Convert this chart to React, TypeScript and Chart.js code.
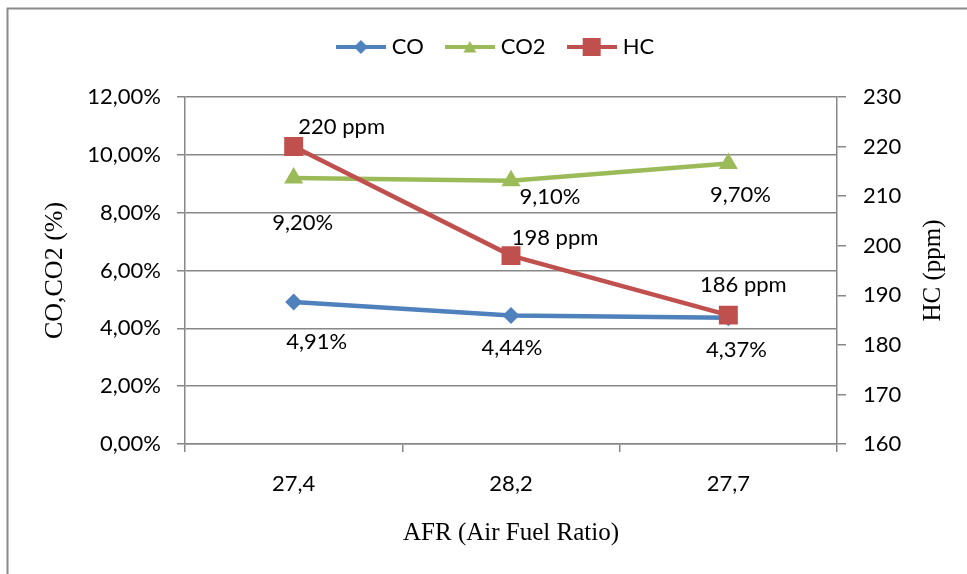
import React, { useEffect, useRef } from 'react';
import { Chart, registerables } from 'chart.js';

Chart.register(...registerables);

// ---- data ----
const categories = ['27,4', '28,2', '27,7'];
const coValues = [4.91, 4.44, 4.37];
const co2Values = [9.2, 9.1, 9.7];
const hcValues = [220, 198, 186];
const leftAxis = { min: 0, max: 12, step: 2 };
const rightAxis = { min: 160, max: 230, step: 10 };
const seriesNames = ['CO', 'CO2', 'HC'];
const xTitle = 'AFR (Air Fuel Ratio)';
const leftTitle = 'CO,CO2 (%)';
const rightTitle = 'HC (ppm)';

// ---- styles ----
const BLUE = '#4F81BD';
const GREEN = '#9BBB59';
const RED = '#C0504D';
const GRID = '#878787';
const SANS = 'Lato, "Open Sans", sans-serif';
const SERIF = '"Liberation Serif", "Times New Roman", serif';

// label offsets (pixels from point) per series
const labelOffsets: number[][][] = [
  [[23, 40], [1, 32], [8, 32]],
  [[9, 45], [39, 16], [12, 31]],
  [[48, -20], [44, -18], [15, -30]],
];

const fmtPct = (v: number) => v.toFixed(2).replace('.', ',') + '%';
const fmtPpm = (v: number) => `${v} ppm`;
const labelFormats = [fmtPct, fmtPct, fmtPpm];

function legendImage(color: string, marker: string): HTMLCanvasElement {
  const c = document.createElement('canvas');
  c.width = 50;
  c.height = 22;
  const g = c.getContext('2d')!;
  g.strokeStyle = color;
  g.fillStyle = color;
  g.lineWidth = 4;
  g.beginPath();
  g.moveTo(0, 11);
  g.lineTo(50, 11);
  g.stroke();
  g.beginPath();
  if (marker === 'diamond') {
    g.moveTo(25, 4);
    g.lineTo(32, 11);
    g.lineTo(25, 18);
    g.lineTo(18, 11);
    g.closePath();
  } else if (marker === 'triangle') {
    g.moveTo(25, 5);
    g.lineTo(31.5, 16.5);
    g.lineTo(18.5, 16.5);
    g.closePath();
  } else {
    g.rect(16, 2, 18, 18);
  }
  g.fill();
  return c;
}

export default function App() {
  const ref = useRef<HTMLCanvasElement | null>(null);

  useEffect(() => {
    let chart: Chart | null = null;
    let cancelled = false;

    const build = () => {
      if (cancelled || !ref.current) return;
      const images = [
        legendImage(BLUE, 'diamond'),
        legendImage(GREEN, 'triangle'),
        legendImage(RED, 'square'),
      ];

      const framePlugin = {
        id: 'frame',
        beforeDraw(c: any) {
          const ctx = c.ctx;
          ctx.save();
          ctx.strokeStyle = '#8a8a8a';
          ctx.lineWidth = 2;
          ctx.beginPath();
          ctx.moveTo(7.5, 574);
          ctx.lineTo(7.5, 8.5);
          ctx.lineTo(967, 8.5);
          ctx.stroke();
          ctx.restore();
        },
        afterDraw(c: any) {
          const ctx = c.ctx;
          const area = c.chartArea;
          ctx.save();
          ctx.font = `25px ${SERIF}`;
          ctx.fillStyle = '#000';
          ctx.textAlign = 'center';
          ctx.textBaseline = 'middle';
          ctx.translate(933, (area.top + area.bottom) / 2);
          ctx.rotate(-Math.PI / 2);
          ctx.fillText(rightTitle, 0, 0);
          ctx.restore();
        },
      };

      const labelPlugin = {
        id: 'pointLabels',
        afterDatasetsDraw(c: any) {
          const ctx = c.ctx;
          ctx.save();
          ctx.font = `22px ${SANS}`;
          ctx.fillStyle = '#000';
          ctx.textAlign = 'center';
          ctx.textBaseline = 'middle';
          c.data.datasets.forEach((ds: any, di: number) => {
            const meta = c.getDatasetMeta(di);
            meta.data.forEach((el: any, i: number) => {
              const [dx, dy] = labelOffsets[di][i];
              ctx.fillText(labelFormats[di](ds.data[i]), el.x + dx, el.y + dy);
            });
          });
          ctx.restore();
        },
      };

      chart = new Chart(ref.current, {
        type: 'line',
        data: {
          labels: categories,
          datasets: [
            {
              label: seriesNames[0],
              data: coValues,
              yAxisID: 'y',
              borderColor: BLUE,
              backgroundColor: BLUE,
              borderWidth: 4.5,
              pointStyle: 'rectRot',
              pointRadius: 8.5,
              pointBorderWidth: 0,
              order: 2,
            },
            {
              label: seriesNames[1],
              data: co2Values,
              yAxisID: 'y',
              borderColor: GREEN,
              backgroundColor: GREEN,
              borderWidth: 4.5,
              pointStyle: 'triangle',
              pointRadius: 11,
              pointBorderWidth: 0,
              order: 1,
            },
            {
              label: seriesNames[2],
              data: hcValues,
              yAxisID: 'y1',
              borderColor: RED,
              backgroundColor: RED,
              borderWidth: 4.5,
              pointStyle: 'rect',
              pointRadius: 13.4,
              pointBorderWidth: 0,
              order: 0,
            },
          ],
        },
        options: {
          responsive: false,
          animation: false,
          events: [],
          layout: { padding: { left: 28, right: 0, top: 10, bottom: 0 } },
          plugins: {
            tooltip: { enabled: false },
            title: {
              display: true,
              text: '',
              weight: 500,
              font: { size: 10 },
              padding: { top: 0, bottom: 17 },
            },
            legend: {
              display: true,
              position: 'top',
              labels: {
                usePointStyle: true,
                pointStyleWidth: 40,
                padding: 26,
                color: '#000',
                font: { family: SANS, size: 22 },
                generateLabels: (c: any) =>
                  c.data.datasets.map((ds: any, i: number) => ({
                    text: ds.label,
                    pointStyle: images[i],
                    fillStyle: ds.borderColor,
                    strokeStyle: ds.borderColor,
                    lineWidth: 0,
                    hidden: false,
                    datasetIndex: i,
                    fontColor: '#000',
                  })),
              },
            },
          },
          scales: {
            x: {
              type: 'category',
              offset: true,
              grid: {
                display: true,
                drawOnChartArea: false,
                drawTicks: true,
                tickLength: 8,
                color: GRID,
                lineWidth: 1.5,
                offset: true,
              },
              border: { display: true, color: GRID, width: 1.5 },
              ticks: { color: '#000', font: { family: SANS, size: 22 }, padding: 19 },
              title: {
                display: true,
                text: xTitle,
                color: '#000',
                font: { family: SERIF, size: 25 },
                padding: { top: 0, bottom: 26 },
              },
              afterFit: (s: any) => {
                s.height = 130;
              },
            },
            y: {
              type: 'linear',
              position: 'left',
              min: leftAxis.min,
              max: leftAxis.max,
              ticks: {
                stepSize: leftAxis.step,
                color: '#000',
                font: { family: SANS, size: 22 },
                padding: 16,
                callback: (v: any) => fmtPct(Number(v)),
              },
              grid: {
                color: GRID,
                lineWidth: 1.5,
                drawTicks: true,
                tickLength: 8,
              },
              border: { display: true, color: GRID, width: 1.5 },
              title: {
                display: true,
                text: leftTitle,
                color: '#000',
                font: { family: SERIF, size: 26 },
                padding: { top: 12, bottom: 0 },
              },
              afterFit: (s: any) => {
                s.width = 157;
              },
            },
            y1: {
              type: 'linear',
              position: 'right',
              min: rightAxis.min,
              max: rightAxis.max,
              ticks: {
                stepSize: rightAxis.step,
                color: '#000',
                font: { family: SANS, size: 22 },
                padding: 17,
              },
              grid: {
                drawOnChartArea: false,
                drawTicks: true,
                tickLength: 9,
                color: GRID,
                lineWidth: 1.5,
              },
              border: { display: true, color: GRID, width: 1.5 },
              afterFit: (s: any) => {
                s.width = 130;
              },
            },
          },
        },
        plugins: [framePlugin, labelPlugin],
      } as any);
    };

    const fonts = (document as any).fonts;
    if (fonts && fonts.load) {
      Promise.all([
        fonts.load(`22px Lato`),
        fonts.load(`25px "Liberation Serif"`),
      ])
        .catch(() => undefined)
        .then(build);
    } else {
      build();
    }

    return () => {
      cancelled = true;
      if (chart) chart.destroy();
    };
  }, []);

  return (
    <div style={{ position: 'absolute', left: 0, top: 0, width: 967, height: 574, background: '#fff' }}>
      <canvas ref={ref} width={967} height={574} style={{ display: 'block', width: 967, height: 574 }} />
    </div>
  );
}
